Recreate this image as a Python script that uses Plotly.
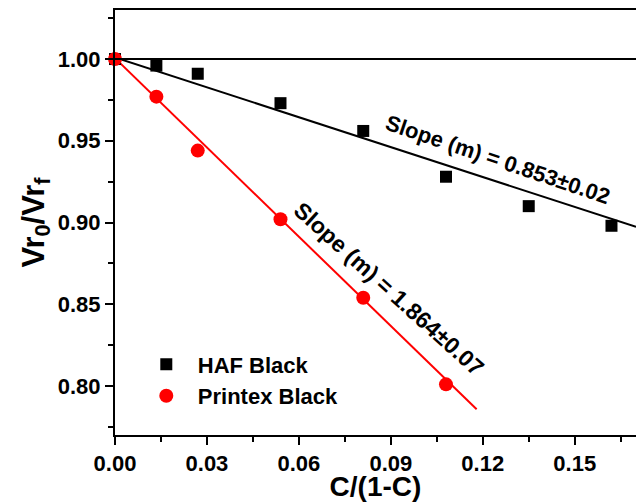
import plotly.graph_objects as go
import numpy as np

# ---- data ----
x_haf = [0.0, 0.0135, 0.027, 0.054, 0.081, 0.108, 0.135, 0.162]
y_haf = [1.000, 0.996, 0.991, 0.973, 0.956, 0.928, 0.910, 0.898]

x_ptx = [0.0, 0.0135, 0.027, 0.054, 0.081, 0.108]
y_ptx = [1.000, 0.977, 0.944, 0.902, 0.854, 0.801]

# fitted lines (intercept, slope, x extent)
fit_haf = dict(intercept=1.001, slope=-0.61, x=[0.0, 0.17])
fit_ptx = dict(intercept=1.0005, slope=-1.82, x=[0.0, 0.118])

label_haf = "Slope (m) = 0.853±0.02"
label_ptx = "Slope (m) = 1.864±0.07"

FONT = "Arial, 'Liberation Sans', sans-serif"

fig = go.Figure()

def fit_line(f):
    xs = np.array(f["x"])
    return xs, f["intercept"] + f["slope"] * xs

xs, ys = fit_line(fit_haf)
fig.add_trace(go.Scatter(x=xs, y=ys, mode="lines", line=dict(color="black", width=2),
                         showlegend=False, hoverinfo="skip"))
xs, ys = fit_line(fit_ptx)
fig.add_trace(go.Scatter(x=xs, y=ys, mode="lines", line=dict(color="#ff0000", width=2),
                         showlegend=False, hoverinfo="skip"))

fig.add_trace(go.Scatter(x=x_haf, y=y_haf, mode="markers", name="HAF Black",
                         marker=dict(symbol="square", size=12, color="black"),
                         cliponaxis=False))
fig.add_trace(go.Scatter(x=x_ptx, y=y_ptx, mode="markers", name="Printex Black",
                         marker=dict(symbol="circle", size=14, color="#ff0000"),
                         cliponaxis=False))

# reference line at 1.00
fig.add_shape(type="line", xref="paper", x0=0, x1=1, yref="y", y0=1.0, y1=1.0,
              line=dict(color="black", width=2))

fig.add_annotation(x=0.1248, y=0.9383, text=label_haf, showarrow=False, textangle=18.7,
                   font=dict(family=FONT, size=22, color="black", weight="bold"),
                   xanchor="center", yanchor="middle")
fig.add_annotation(x=0.0895, y=0.8594, text=label_ptx, showarrow=False, textangle=42,
                   font=dict(family=FONT, size=23, color="black", weight="bold"),
                   xanchor="center", yanchor="middle")

fig.update_layout(
    width=636, height=502,
    margin=dict(l=115, r=0, t=10, b=65),
    paper_bgcolor="white", plot_bgcolor="white",
    font=dict(family=FONT, color="black"),
    legend=dict(x=0.038, y=0.2155, xanchor="left", yanchor="top",
                bgcolor="rgba(0,0,0,0)", itemwidth=53,
                font=dict(family=FONT, size=22, color="black", weight="bold"),
                tracegroupgap=0),
    xaxis=dict(range=[0, 0.17], showgrid=False, zeroline=False,
               showline=True, linecolor="black", linewidth=2, mirror=True,
               ticks="outside", ticklen=8, tickwidth=2, tickcolor="black",
               tick0=0, dtick=0.03, tickformat=".2f",
               tickfont=dict(family=FONT, size=22, color="black", weight="bold"),
               minor=dict(dtick=0.015, ticks="outside", ticklen=5, tickwidth=2, tickcolor="black"),
               title=dict(text="C/(1-C)", standoff=6,
                          font=dict(family=FONT, size=28, color="black", weight="bold"))),
    yaxis=dict(range=[0.77, 1.03], showgrid=False, zeroline=False,
               showline=True, linecolor="black", linewidth=2, mirror=False,
               ticks="outside", ticklen=8, tickwidth=2, tickcolor="black",
               tick0=0.8, dtick=0.05, tickformat=".2f",
               tickfont=dict(family=FONT, size=22, color="black", weight="bold"),
               minor=dict(dtick=0.025, ticks="outside", ticklen=5, tickwidth=2, tickcolor="black"),
               title=dict(text="Vr<sub>0</sub>/Vr<sub>f</sub>", standoff=4,
                          font=dict(family=FONT, size=31, color="black", weight="bold"))),
)

fig.write_html("out.html")
